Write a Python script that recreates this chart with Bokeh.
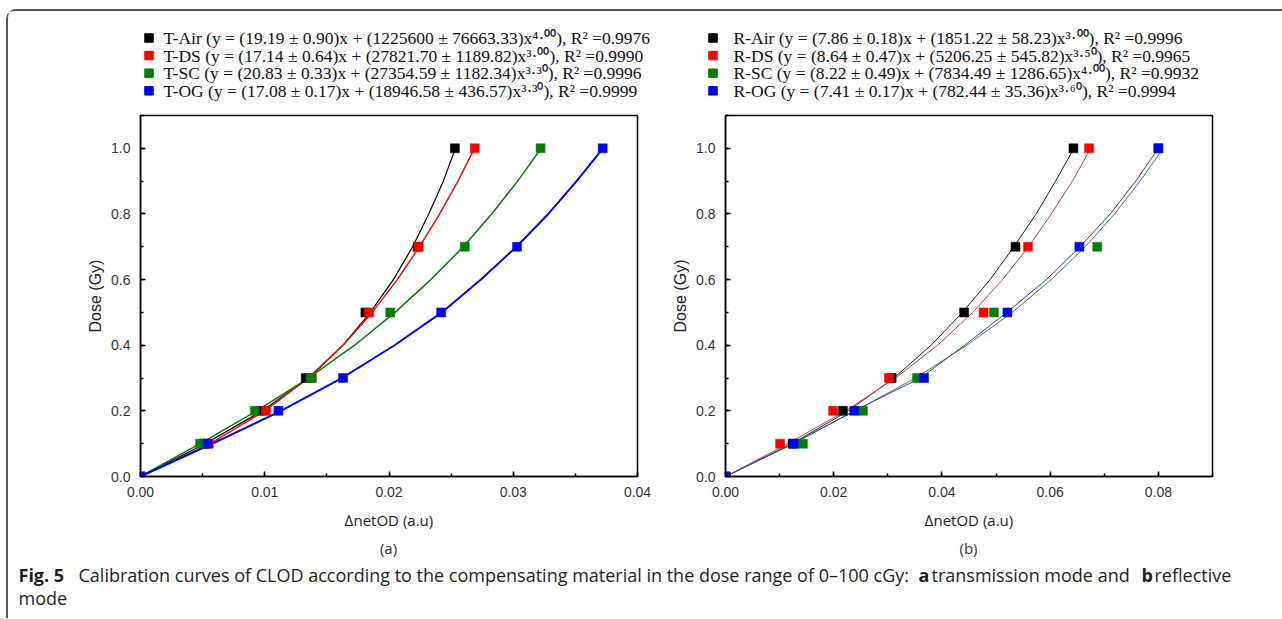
from bokeh.plotting import figure
from bokeh.models import Range1d, SingleIntervalTicker, PrintfTickFormatter
from bokeh.layouts import column, row
from bokeh.embed import file_html
from bokeh.resources import INLINE
from bokeh.core.properties import value

# ---------------- data ----------------
dose_levels = [0.0, 0.1, 0.2, 0.3, 0.5, 0.7, 1.0]

# (a) transmission mode: measured netOD
t_air_od = [0.0, 0.0051, 0.0097, 0.0133, 0.0181, 0.0223, 0.0253]
t_ds_od = [0.0, 0.0055, 0.0101, 0.0138, 0.0184, 0.0224, 0.0269]
t_sc_od = [0.0, 0.0048, 0.0092, 0.0137, 0.0201, 0.0261, 0.0322]
t_og_od = [0.0, 0.0054, 0.0111, 0.0163, 0.0242, 0.0303, 0.0372]

# (b) reflective mode: measured netOD
r_air_od = [0.0, 0.0124, 0.0217, 0.0307, 0.0441, 0.0536, 0.0643]
r_ds_od = [0.0, 0.0101, 0.0199, 0.0302, 0.0477, 0.0559, 0.0672]
r_sc_od = [0.0, 0.0143, 0.0254, 0.0354, 0.0496, 0.0687, 0.0800]
r_og_od = [0.0, 0.0127, 0.0238, 0.0367, 0.0521, 0.0654, 0.0800]

# fitted curves (netOD where each curve crosses the dose)
curve_dose = [0.0, 0.1, 0.2, 0.3, 0.4, 0.5, 0.6, 0.7, 0.8, 0.9, 1.0]
t_air_fit = [0.0, 0.0052, 0.0098, 0.01355, 0.0163, 0.0185, 0.02035, 0.0219, 0.0232, 0.02437, 0.02535]
t_ds_fit = [0.0, 0.0056, 0.0100, 0.0135, 0.0163, 0.01865, 0.02067, 0.02245, 0.02408, 0.02555, 0.02688]
t_sc_fit = [0.0, 0.0048, 0.00935, 0.01352, 0.01723, 0.02048, 0.02337, 0.02598, 0.02826, 0.03035, 0.03225]
t_og_fit = [0.0, 0.0058, 0.0113, 0.0162, 0.02045, 0.02425, 0.0274, 0.03026, 0.03282, 0.0351, 0.03722]

r_air_fit = [0.0, 0.0123, 0.0227, 0.0311, 0.0380, 0.0438, 0.0489, 0.0533, 0.0574, 0.0610, 0.0644]
r_ds_fit = [0.0, 0.0115, 0.0222, 0.0314, 0.0392, 0.0457, 0.0512, 0.0560, 0.0602, 0.0641, 0.0675]
r_sc_dose = [0.0, 0.1, 0.2, 0.3, 0.4, 0.5, 0.6, 0.7, 0.8, 0.9, 0.986]
r_sc_fit = [0.0, 0.0122, 0.0240, 0.0351, 0.0446, 0.0530, 0.0602, 0.0665, 0.0719, 0.0766, 0.0803]
r_og_fit = [0.0, 0.0126, 0.0238, 0.0360, 0.0442, 0.0520, 0.0593, 0.0655, 0.0711, 0.0758, 0.0800]

# legend texts (fit parameters)
t_names = ["T-Air", "T-DS", "T-SC", "T-OG"]
t_a = ["19.19", "17.14", "20.83", "17.08"]
t_a_err = ["0.90", "0.64", "0.33", "0.17"]
t_b = ["1225600", "27821.70", "27354.59", "18946.58"]
t_b_err = ["76663.33", "1189.82", "1182.34", "436.57"]
t_n = ["4.00", "3.00", "3.30", "3.30"]
t_r2 = ["0.9976", "0.9990", "0.9996", "0.9999"]

r_names = ["R-Air", "R-DS", "R-SC", "R-OG"]
r_a = ["7.86", "8.64", "8.22", "7.41"]
r_a_err = ["0.18", "0.47", "0.49", "0.17"]
r_b = ["1851.22", "5206.25", "7834.49", "782.44"]
r_b_err = ["58.23", "545.82", "1286.65", "35.36"]
r_n = ["3.00", "3.50", "4.00", "3.60"]
r_r2 = ["0.9996", "0.9965", "0.9932", "0.9994"]

x_title = "\u2206netOD (a.u)"
y_title = "Dose (Gy)"
caption_bold_1 = "Fig. 5"
caption_text_1 = "Calibration curves of CLOD according to the compensating material in the dose range of 0\u2013100 cGy:"
caption_bold_2 = "a"
caption_text_2 = "transmission mode and"
caption_bold_3 = "b"
caption_text_3 = "reflective"
caption_text_4 = "mode"

marker_colors = ["#000000", "#ff0000", "#008000", "#0000ff"]

SUP = str.maketrans("0123456789.", "\u2070\u00b9\u00b2\u00b3\u2074\u2075\u2076\u2077\u2078\u2079\u00b7")


def make_label(name, a, ae, b, be, n, r2):
    return f"{name} (y = ({a} \u00b1 {ae})x + ({b} \u00b1 {be})x{n.translate(SUP)}), R\u00b2 ={r2}"


def style_axes(p, xstep):
    p.xgrid.visible = False
    p.ygrid.visible = False
    p.outline_line_color = "black"
    p.outline_line_width = 1.5
    p.xaxis.ticker = SingleIntervalTicker(interval=xstep, num_minor_ticks=2)
    p.yaxis.ticker = SingleIntervalTicker(interval=0.2, num_minor_ticks=2)
    p.xaxis.formatter = PrintfTickFormatter(format="%.2f")
    p.yaxis.formatter = PrintfTickFormatter(format="%.1f")
    for ax in (p.xaxis[0], p.yaxis[0]):
        ax.axis_line_width = 1.5
        ax.axis_line_color = "black"
        ax.major_tick_in = 5
        ax.major_tick_out = 0
        ax.minor_tick_in = 3
        ax.minor_tick_out = 0
        ax.major_tick_line_width = 1.5
        ax.minor_tick_line_width = 1.5
        ax.major_label_text_font = "Liberation Sans"
        ax.major_label_text_font_size = "14px"
        ax.major_label_text_color = "#333333"
        ax.major_label_standoff = 10
    p.xaxis.axis_label = x_title
    p.xaxis.axis_label_text_font = "Open Sans"
    p.xaxis.axis_label_text_font_size = "15px"
    p.xaxis.axis_label_text_font_style = "normal"
    p.xaxis.axis_label_text_color = "#222222"
    p.xaxis.axis_label_standoff = 10
    p.yaxis.axis_label = y_title
    p.yaxis.axis_label_text_font = "Liberation Sans"
    p.yaxis.axis_label_text_font_size = "16px"
    p.yaxis.axis_label_text_font_style = "normal"
    p.yaxis.axis_label_text_color = "#222222"
    p.yaxis.axis_label_standoff = 4


LEG_H = 95


def make_legend(width, labels, sq_x, txt_x):
    # legend block drawn above a panel (screen-like coordinates, y from top)
    lg = figure(width=width, height=LEG_H, x_range=Range1d(0, width), y_range=Range1d(LEG_H, 0),
                output_backend="svg", toolbar_location=None, min_border=0,
                x_axis_type=None, y_axis_type=None,
                background_fill_color="white", border_fill_color="white")
    lg.xgrid.visible = False
    lg.ygrid.visible = False
    lg.outline_line_color = None
    rows_y = [26.5 + 17.6 * i for i in range(len(labels))]
    lg.scatter([sq_x] * len(labels), rows_y, marker="square", size=8.5,
               fill_color=marker_colors, line_color=marker_colors)
    lg.text([txt_x] * len(labels), rows_y, text=labels,
            text_font=value("Liberation Serif"), text_font_size="17.5px",
            text_color="#111111", text_align="left", text_baseline="middle")
    return lg


def make_panel(width, xmax, xstep, ods, fits_x, fits_y, line_colors,
               line_widths, mb_left, mb_right):
    p = figure(width=width, height=523 - LEG_H, x_range=Range1d(0, xmax), y_range=Range1d(0, 1.1),
               output_backend="svg", toolbar_location=None,
               min_border_left=mb_left, min_border_right=mb_right,
               min_border_top=104 - LEG_H, min_border_bottom=58,
               background_fill_color="white", border_fill_color="white")
    style_axes(p, xstep)
    for i in range(4):
        p.line(fits_x[i], fits_y[i], line_color=line_colors[i], line_width=line_widths[i])
    for i in range(4):
        p.scatter(ods[i], dose_levels, marker="square", size=9,
                  fill_color=marker_colors[i], line_color=marker_colors[i], line_width=0.5)
    return p


t_labels = [make_label(*v) for v in zip(t_names, t_a, t_a_err, t_b, t_b_err, t_n, t_r2)]
r_labels = [make_label(*v) for v in zip(r_names, r_a, r_a_err, r_b, r_b_err, r_n, r_r2)]

lga = make_legend(655, t_labels, 140.5, 155)
lgb = make_legend(599, r_labels, 49.5, 70)

pa = make_panel(655, 0.04, 0.01,
                [t_air_od, t_ds_od, t_sc_od, t_og_od],
                [t_air_fit, t_ds_fit, t_sc_fit, t_og_fit],
                [curve_dose, curve_dose, curve_dose, curve_dose],
                ["#000000", "#ee1111", "#0a7a0a", "#0000ff"],
                [1.2, 1.5, 1.5, 2.0], 132, 26)

pb = make_panel(599, 0.09, 0.02,
                [r_air_od, r_ds_od, r_sc_od, r_og_od],
                [r_air_fit, r_ds_fit, r_sc_fit, r_og_fit],
                [curve_dose, curve_dose, r_sc_dose, curve_dose],
                ["#222222", "#c04848", "#3e8a3e", "#3c3cb0"],
                [1.0, 1.0, 1.0, 1.0], 62, 50)

# caption
cap = figure(width=1266, height=84, x_range=Range1d(0, 1266), y_range=Range1d(84, 0),
             output_backend="svg", toolbar_location=None, min_border=0,
             x_axis_type=None, y_axis_type=None,
             background_fill_color="white", border_fill_color="white")
cap.xgrid.visible = False
cap.ygrid.visible = False
cap.outline_line_color = None
cf = value("Open Sans")
cap.text(x=[380, 960], y=[13, 13], text=["(a)", "(b)"], text_font=cf, text_font_size="15px",
         text_align="center", text_baseline="middle", text_color="#333333")
cap.text(x=[10, 910, 1133], y=[40, 40, 40], text=[caption_bold_1, caption_bold_2, caption_bold_3],
         text_font=cf, text_font_size="18px", text_font_style="bold",
         text_align="left", text_baseline="middle", text_color="#231f20")
cap.text(x=[70, 923, 1146, 10], y=[40, 40, 40, 63],
         text=[caption_text_1, caption_text_2, caption_text_3, caption_text_4],
         text_font=cf, text_font_size="18px",
         text_align="left", text_baseline="middle", text_color="#231f20")

layout = column(row(lga, lgb), row(pa, pb), cap,
                styles={"border-top": "2px solid #555555", "border-left": "2px solid #555555",
                        "border-right": "0px none", "border-bottom": "0px none",
                        "border-top-left-radius": "10px", "margin-top": "9px",
                        "margin-left": "6px", "padding-right": "8px"})

open("out.html", "w").write(file_html(layout, INLINE))
